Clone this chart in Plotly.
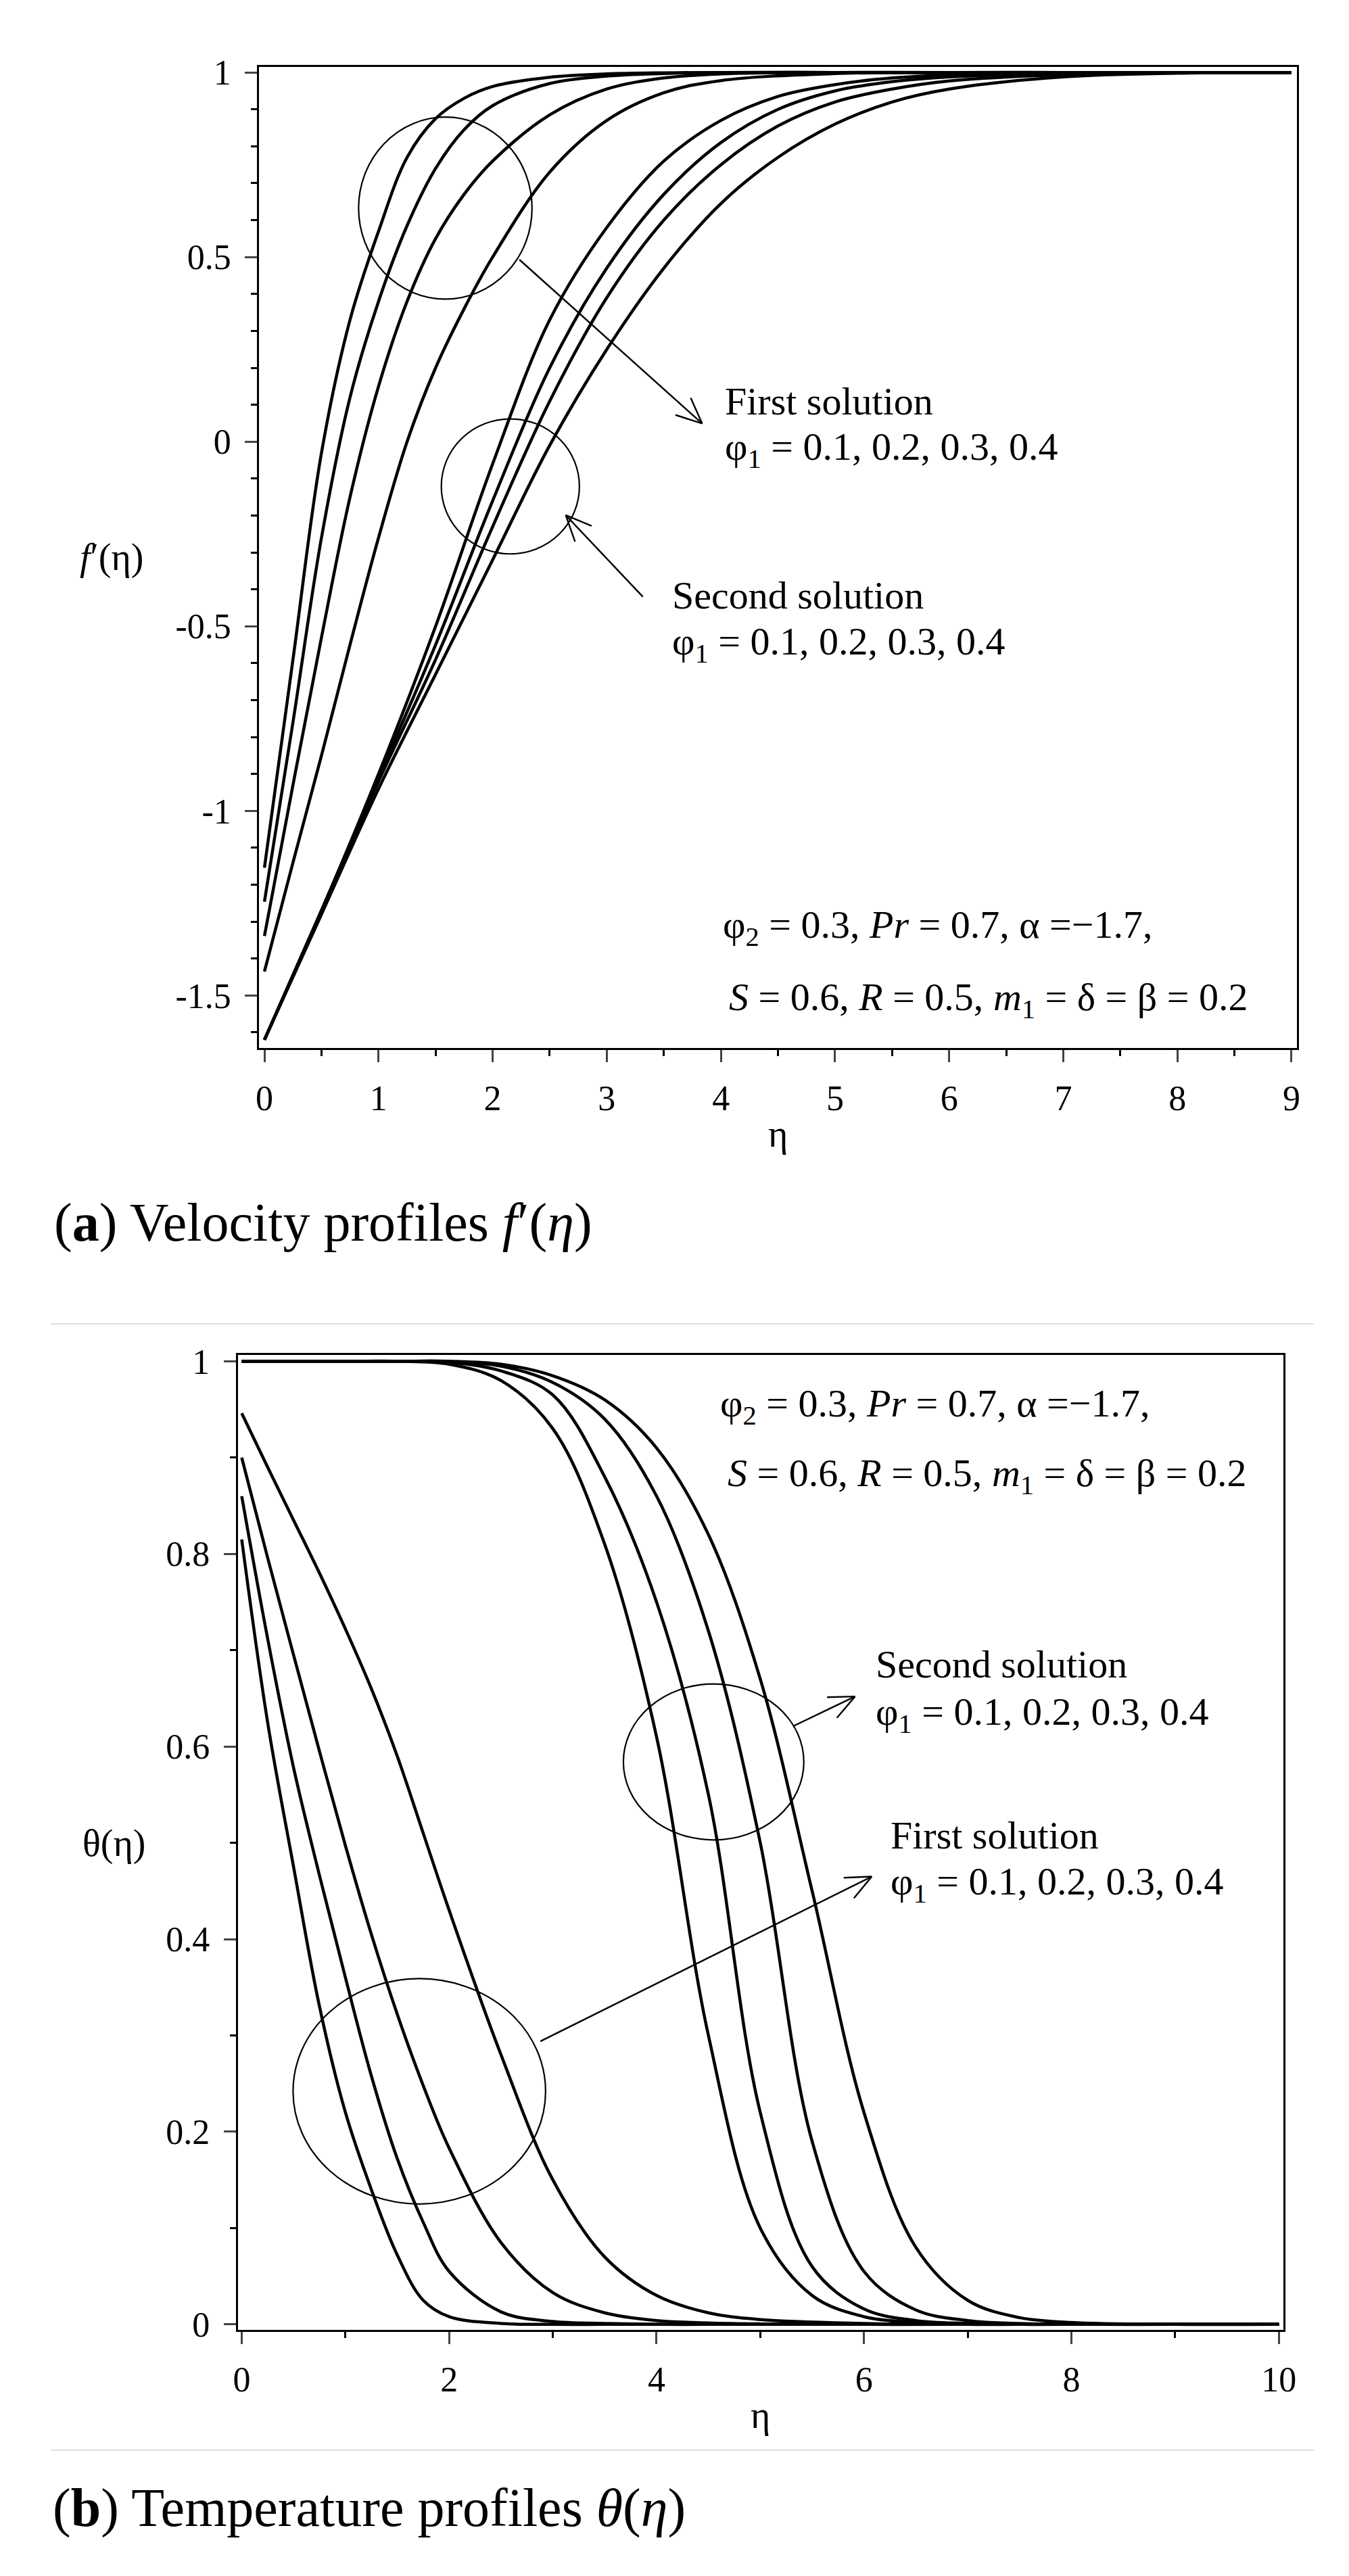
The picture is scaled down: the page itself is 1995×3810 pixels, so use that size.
import numpy as np
import plotly.graph_objects as go

W, H = 1995, 3810

# ---------------- (a) velocity profiles f'(eta) ----------------
# first solution, phi1 = 0.1, 0.2, 0.3, 0.4
fa_first_eta = [0, 0.25, 0.5, 0.75, 1.0, 1.25, 1.5, 1.75, 2.0, 2.5, 3.0, 3.5, 4.0, 5.0, 6.0, 7.0, 8.0, 9.0]
fa1 = [-1.154, -0.59, -0.03, 0.33, 0.57, 0.77, 0.875, 0.93, 0.962, 0.987, 0.996, 0.999, 1, 1, 1, 1, 1, 1]
fa2 = [-1.246, -0.76, -0.26, 0.12, 0.38, 0.585, 0.74, 0.845, 0.91, 0.97, 0.99, 0.997, 1, 1, 1, 1, 1, 1]
fa3 = [-1.339, -0.93, -0.53, -0.15, 0.15, 0.38, 0.55, 0.67, 0.76, 0.885, 0.955, 0.985, 0.996, 1, 1, 1, 1, 1]
fa4 = [-1.435, -1.14, -0.85, -0.55, -0.26, 0.0, 0.2, 0.36, 0.5, 0.73, 0.87, 0.945, 0.978, 0.997, 1, 1, 1, 1]

# second solution, phi1 = 0.1, 0.2, 0.3, 0.4
fa_second_eta = [0, 0.5, 1.0, 1.5, 2.0, 2.5, 3.0, 3.5, 4.0, 4.5, 5.0, 5.5, 6.0, 7.0, 8.0, 9.0]
fa5 = [-1.62, -1.27, -0.90, -0.50, -0.06, 0.33, 0.58, 0.76, 0.87, 0.935, 0.967, 0.985, 0.993, 0.999, 1, 1]
fa6 = [-1.62, -1.27, -0.91, -0.55, -0.16, 0.20, 0.47, 0.67, 0.81, 0.90, 0.95, 0.975, 0.988, 0.997, 1, 1]
fa7 = [-1.62, -1.27, -0.92, -0.59, -0.23, 0.11, 0.39, 0.60, 0.75, 0.855, 0.92, 0.955, 0.977, 0.994, 0.999, 1]
fa8 = [-1.62, -1.28, -0.94, -0.63, -0.32, -0.01, 0.25, 0.47, 0.645, 0.77, 0.86, 0.92, 0.955, 0.988, 0.998, 1]

# ---------------- (b) temperature profiles theta(eta) ----------------
tb_first_eta = [0, 0.25, 0.5, 0.75, 1.0, 1.25, 1.5, 1.75, 2.0, 2.5, 3.0, 3.5, 4.0, 4.5, 5.0, 6.0, 7.0, 10.0]
tb1 = [0.946, 0.89, 0.835, 0.78, 0.722, 0.66, 0.59, 0.51, 0.43, 0.28, 0.15, 0.07, 0.03, 0.012, 0.005, 0.001, 0, 0]
tb2 = [0.900, 0.796, 0.695, 0.595, 0.497, 0.405, 0.322, 0.248, 0.183, 0.085, 0.033, 0.012, 0.004, 0.0015, 0.0005, 0, 0, 0]
tb3 = [0.860, 0.712, 0.578, 0.466, 0.36, 0.258, 0.172, 0.106, 0.055, 0.013, 0.003, 0.001, 0, 0, 0, 0, 0, 0]
tb4 = [0.815, 0.625, 0.475, 0.33, 0.22, 0.14, 0.072, 0.025, 0.008, 0.001, 0, 0, 0, 0, 0, 0, 0, 0]

tb_second_eta = [0, 1.0, 1.5, 2.0, 2.5, 3.0, 3.5, 4.0, 4.5, 5.0, 5.5, 6.0, 6.5, 7.0, 7.5, 8.0, 9.0, 10.0]
tb5 = [1, 1, 1, 0.997, 0.98, 0.93, 0.81, 0.61, 0.30, 0.10, 0.03, 0.008, 0.002, 0, 0, 0, 0, 0]
tb6 = [1, 1, 1, 0.999, 0.99, 0.965, 0.88, 0.75, 0.55, 0.22, 0.06, 0.016, 0.004, 0.001, 0, 0, 0, 0]
tb7 = [1, 1, 1, 1, 0.995, 0.978, 0.94, 0.86, 0.72, 0.50, 0.19, 0.055, 0.015, 0.004, 0.001, 0, 0, 0]
tb8 = [1, 1, 1, 1, 0.997, 0.985, 0.96, 0.91, 0.82, 0.67, 0.45, 0.22, 0.08, 0.025, 0.007, 0.002, 0, 0]

# tick labels
a_yticks = [1, 0.5, 0, -0.5, -1, -1.5]
a_xticks = list(range(0, 10))
b_yticks = [0, 0.2, 0.4, 0.6, 0.8, 1]
b_xticks = [0, 2, 4, 6, 8, 10]

# ---------------- geometry (pixels) ----------------
A_BOX = (373, 1928, 72, 1539)     # left, right, top, bottom
B_BOX = (341, 1908, 1998, 3455)
A_XR, A_YR = [-0.047, 9.047], [-1.643, 1.0145]
B_XR, B_YR = [-0.0386, 10.045], [-0.0056, 1.00625]

FONT = "Liberation Serif"
LW = 4.5


def dom(box):
    l, r, t, b = box
    return [l / W, r / W], [1 - b / H, 1 - t / H]


def px(x, y):
    return x / W, 1 - y / H


fig = go.Figure()

for v in [fa1, fa2, fa3, fa4]:
    fig.add_trace(go.Scatter(x=fa_first_eta, y=v, mode="lines", xaxis="x", yaxis="y",
                             line=dict(color="black", width=LW, shape="spline", smoothing=1.0),
                             showlegend=False, hoverinfo="skip"))
for v in [fa5, fa6, fa7, fa8]:
    fig.add_trace(go.Scatter(x=fa_second_eta, y=v, mode="lines", xaxis="x", yaxis="y",
                             line=dict(color="black", width=LW, shape="spline", smoothing=1.0),
                             showlegend=False, hoverinfo="skip"))
for v in [tb1, tb2, tb3, tb4]:
    fig.add_trace(go.Scatter(x=tb_first_eta, y=v, mode="lines", xaxis="x2", yaxis="y2",
                             line=dict(color="black", width=LW, shape="spline", smoothing=1.0),
                             showlegend=False, hoverinfo="skip"))
for v in [tb5, tb6, tb7, tb8]:
    fig.add_trace(go.Scatter(x=tb_second_eta, y=v, mode="lines", xaxis="x2", yaxis="y2",
                             line=dict(color="black", width=LW, shape="spline", smoothing=1.0),
                             showlegend=False, hoverinfo="skip"))


def axis(domain, rng, tickvals, minor_dtick, anchor):
    return dict(domain=domain, range=rng, anchor=anchor,
                tickmode="array", tickvals=tickvals, ticktext=[f"{v:g}" for v in tickvals],
                showline=True, linewidth=3, linecolor="black", mirror=True,
                ticks="outside", ticklen=18, tickwidth=3, tickcolor="#444",
                minor=dict(ticks="outside", dtick=minor_dtick, ticklen=9, tickwidth=2.5,
                           tickcolor="black", showgrid=False),
                showgrid=False, zeroline=False,
                tickfont=dict(family=FONT, size=52, color="black"))


axd, ayd = dom(A_BOX)
bxd, byd = dom(B_BOX)
fig.update_layout(
    width=W, height=H, autosize=False,
    margin=dict(l=0, r=0, t=0, b=0),
    paper_bgcolor="white", plot_bgcolor="white",
    xaxis=axis(axd, A_XR, a_xticks, 0.5, "y"),
    yaxis=axis(ayd, A_YR, a_yticks, 0.1, "x"),
    xaxis2=axis(bxd, B_XR, b_xticks, 1, "y2"),
    yaxis2=axis(byd, B_YR, b_yticks, 0.1, "x2"),
)
fig.update_yaxes(ticklabelstandoff=10)
fig.update_xaxes(ticklabelstandoff=8)

shapes = []
annos = []


def text(x, y, s, size=58, anchor="left"):
    xp, yp = px(x, y)
    annos.append(dict(x=xp, y=yp, xref="paper", yref="paper", text=s, showarrow=False,
                      xanchor=anchor, yanchor="middle",
                      font=dict(family=FONT, size=size, color="black")))


def ellipse(x0, x1, y0, y1, xr, yr):
    shapes.append(dict(type="circle", xref=xr, yref=yr, x0=x0, x1=x1, y0=y0, y1=y1,
                       line=dict(color="black", width=2.2)))


def arrow(x0, y0, x1, y1, xr, yr, box, xrng, yrng):
    # shaft + open V head, head at (x1, y1)
    sx = (box[1] - box[0]) / (xrng[1] - xrng[0])
    sy = (box[3] - box[2]) / (yrng[1] - yrng[0])
    dx, dy = (x1 - x0) * sx, (y1 - y0) * sy
    n = np.hypot(dx, dy)
    ux, uy = dx / n, dy / n
    shapes.append(dict(type="line", xref=xr, yref=yr, x0=x0, y0=y0, x1=x1, y1=y1,
                       line=dict(color="black", width=2.4)))
    L, ang = 42, np.radians(24)
    for s in (1, -1):
        c, si = np.cos(s * ang), np.sin(s * ang)
        hx = -(ux * c - uy * si) * L
        hy = -(ux * si + uy * c) * L
        shapes.append(dict(type="line", xref=xr, yref=yr, x0=x1, y0=y1,
                           x1=x1 + hx / sx, y1=y1 + hy / sy,
                           line=dict(color="black", width=2.4)))


# panel (a) annotations
ellipse(0.825, 2.345, 0.386, 0.879, "x", "y")
ellipse(1.55, 2.76, -0.304, 0.0616, "x", "y")
arrow(2.234, 0.493, 3.836, 0.049, "x", "y", A_BOX, A_XR, A_YR)
arrow(3.316, -0.42, 2.64, -0.199, "x", "y", A_BOX, A_XR, A_YR)
phi1 = "φ<sub>1</sub> = 0.1, 0.2, 0.3, 0.4"
text(1069, 572, "First solution")
text(1069, 643, phi1)
text(990, 862, "Second solution")
text(990, 935, phi1)
p_line1 = "φ<sub>2</sub> = 0.3, <i>Pr</i> = 0.7, α =−1.7,"
p_line2 = "<i>S</i> = 0.6, <i>R</i> = 0.5, <i>m</i><sub>1</sub> = δ = β = 0.2"
text(1066, 1358, p_line1)
text(1075, 1466, p_line2)
text(152, 805, "<i>f</i>′(η)", size=56, anchor="center")
text(1150, 1667, "η", size=56, anchor="center")
text(64, 1800, "(<b>a</b>) Velocity profiles <i>f</i>′(<i>η</i>)", size=80)

# panel (b) annotations
ellipse(3.68, 5.42, 0.503, 0.665, "x2", "y2")
ellipse(0.495, 2.93, 0.125, 0.359, "x2", "y2")
arrow(5.315, 0.621, 5.914, 0.652, "x2", "y2", B_BOX, B_XR, B_YR)
arrow(2.88, 0.294, 6.075, 0.465, "x2", "y2", B_BOX, B_XR, B_YR)
text(1062, 2074, p_line1)
text(1073, 2178, p_line2)
text(1295, 2460, "Second solution")
text(1295, 2535, phi1)
text(1317, 2716, "First solution")
text(1317, 2789, phi1)
text(156, 2728, "θ(η)", size=56, anchor="center")
text(1124, 3583, "η", size=56, anchor="center")
text(62, 3722, "(<b>b</b>) Temperature profiles <i>θ</i>(<i>η</i>)", size=80)

# light separators
for yy in (1951, 3635):
    shapes.append(dict(type="line", xref="paper", yref="paper",
                       x0=61 / W, x1=1953 / W, y0=1 - yy / H, y1=1 - yy / H,
                       line=dict(color="#dddddd", width=2)))

fig.update_layout(shapes=shapes, annotations=annos)
fig.write_html("out.html")
